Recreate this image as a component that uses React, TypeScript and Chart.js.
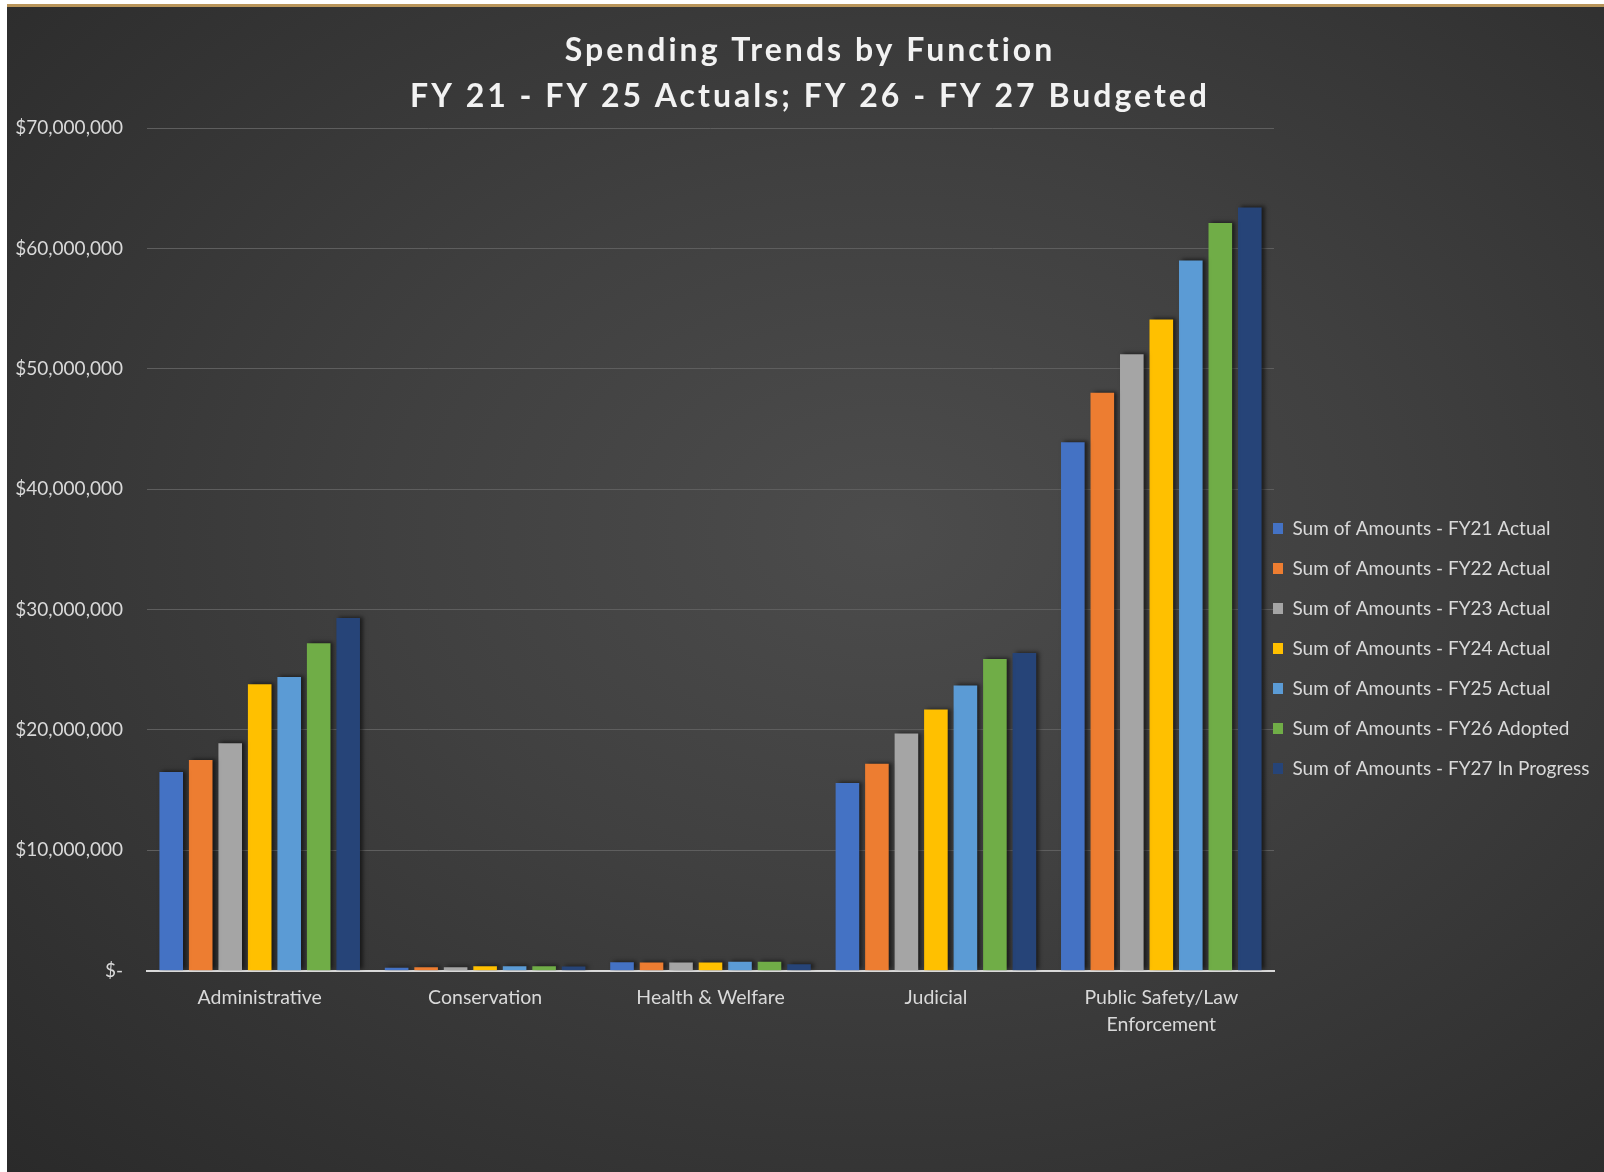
import React, { useEffect, useRef } from 'react';
import { Chart, registerables } from 'chart.js';

Chart.register(...registerables);

const titleLines = ['Spending Trends by Function', 'FY 21 - FY 25 Actuals; FY 26 - FY 27 Budgeted'];

const categoryLabels: (string | string[])[] = [
  'Administrative',
  'Conservation',
  'Health & Welfare',
  'Judicial',
  ['Public Safety/Law', 'Enforcement'],
];

const seriesNames = [
  'Sum of Amounts - FY21 Actual',
  'Sum of Amounts - FY22 Actual',
  'Sum of Amounts - FY23 Actual',
  'Sum of Amounts - FY24 Actual',
  'Sum of Amounts - FY25 Actual',
  'Sum of Amounts - FY26 Adopted',
  'Sum of Amounts - FY27 In Progress',
];

const fy21Actual = [16500000, 250000, 700000, 15600000, 43900000];
const fy22Actual = [17500000, 300000, 680000, 17200000, 48000000];
const fy23Actual = [18900000, 300000, 680000, 19700000, 51200000];
const fy24Actual = [23800000, 380000, 680000, 21700000, 54100000];
const fy25Actual = [24400000, 380000, 750000, 23700000, 59000000];
const fy26Adopted = [27200000, 380000, 750000, 25900000, 62100000];
const fy27InProgress = [29300000, 350000, 550000, 26400000, 63400000];

const seriesValues = [fy21Actual, fy22Actual, fy23Actual, fy24Actual, fy25Actual, fy26Adopted, fy27InProgress];

const seriesColors = ['#4472C4', '#ED7D31', '#A5A5A5', '#FFC000', '#5B9BD5', '#70AD47', '#264478'];

const yMin = 0;
const yMax = 70000000;
const yStep = 10000000;

const CANVAS_W = 1597;
const CANVAS_H = 1165;
const Y_AXIS_W = 131;
const TITLE_CENTER_X = 803;
const LEGEND_BOX_X = 1266;
const LEGEND_FIRST_Y = 512;
const LEGEND_PAD = 21;

const layoutTweak = {
  id: 'layoutTweak',
  afterLayout(chart: any) {
    const tb = chart.titleBlock;
    if (tb) {
      const dx = TITLE_CENTER_X - (tb.left + tb.right) / 2;
      tb.left += dx;
      tb.right += dx;
      if (!tb._lsPatched) {
        const orig = tb.draw;
        tb.draw = function (...args: any[]) {
          const c = this.ctx;
          const prev = c.letterSpacing;
          c.letterSpacing = '3px';
          orig.apply(this, args);
          c.letterSpacing = prev;
        };
        tb._lsPatched = true;
      }
    }
    const lg = chart.legend;
    if (lg) {
      const w = CANVAS_W - (LEGEND_BOX_X - LEGEND_PAD);
      const h = 400;
      lg.left = LEGEND_BOX_X - LEGEND_PAD;
      lg.right = lg.left + w;
      lg.width = w;
      lg.top = LEGEND_FIRST_Y - LEGEND_PAD;
      lg.bottom = lg.top + h;
      lg.height = h;
    }
  },
};

const barShadow = {
  id: 'barShadow',
  beforeDatasetsDraw(chart: any) {
    const ctx = chart.ctx;
    ctx.save();
    ctx.shadowColor = 'rgba(0,0,0,0.55)';
    ctx.shadowBlur = 4;
    ctx.shadowOffsetX = 3;
    ctx.shadowOffsetY = -1;
  },
  afterDatasetsDraw(chart: any) {
    chart.ctx.restore();
  },
};

function formatMoney(v: number): string {
  if (v === 0) return '$-';
  return '$' + Math.round(v).toLocaleString('en-US');
}

export default function App() {
  const canvasRef = useRef<HTMLCanvasElement | null>(null);

  useEffect(() => {
    const canvas = canvasRef.current;
    if (!canvas) return;
    const chart = new Chart(canvas, {
      type: 'bar',
      data: {
        labels: categoryLabels as any,
        datasets: seriesNames.map((name, i) => ({
          label: name,
          data: seriesValues[i],
          backgroundColor: seriesColors[i],
          borderWidth: 0,
          categoryPercentage: 0.916,
          barPercentage: 0.8,
        })),
      },
      options: {
        responsive: false,
        animation: false,
        devicePixelRatio: 1,
        layout: { padding: { left: 9, right: 80, top: 21, bottom: 120 } },
        plugins: {
          title: {
            display: true,
            text: titleLines,
            color: '#f2f2f2',
            font: { family: 'Lato', weight: 'bold', size: 32, lineHeight: 46 / 32 },
            padding: { top: 0, bottom: 8 },
          },
          legend: {
            position: 'right',
            align: 'start',
            maxWidth: 250,
            labels: {
              color: '#d9d9d9',
              font: { family: 'Lato', size: 19 },
              boxWidth: 10,
              boxHeight: 11,
              padding: LEGEND_PAD,
            },
          },
          tooltip: { enabled: false },
        },
        scales: {
          x: {
            grid: { display: false, drawTicks: false },
            border: { display: true, color: '#d9d9d9', width: 2 },
            ticks: {
              color: '#d9d9d9',
              font: { family: 'Lato', size: 19.5, lineHeight: 1.365 },
              padding: 14,
              maxRotation: 0,
              autoSkip: false,
            },
          },
          y: {
            min: yMin,
            max: yMax,
            afterFit: (scale: any) => {
              scale.width = Y_AXIS_W;
            },
            grid: { color: '#5e5e5e', lineWidth: 1, drawTicks: false },
            border: { display: false },
            ticks: {
              stepSize: yStep,
              color: '#d9d9d9',
              font: { family: 'Lato', size: 19 },
              padding: 24,
              callback: (v: any) => formatMoney(Number(v)),
            },
          },
        },
      },
      plugins: [layoutTweak, barShadow],
    });
    return () => chart.destroy();
  }, []);

  return (
    <div style={{ position: 'absolute', left: 0, top: 0, width: 1604, height: 1172, background: '#ffffff', overflow: 'hidden' }}>
      <div style={{ position: 'absolute', left: 7, top: 4, width: 1597, height: 3, background: '#b9955a' }} />
      <div
        style={{
          position: 'absolute',
          left: 7,
          top: 7,
          width: CANVAS_W,
          height: CANVAS_H,
          background: 'radial-gradient(ellipse farthest-corner at 55% 45%, #4c4c4c 0%, #404040 40%, #2a2a2a 100%)',
        }}
      >
        <canvas ref={canvasRef} width={CANVAS_W} height={CANVAS_H} style={{ display: 'block' }} />
      </div>
    </div>
  );
}
